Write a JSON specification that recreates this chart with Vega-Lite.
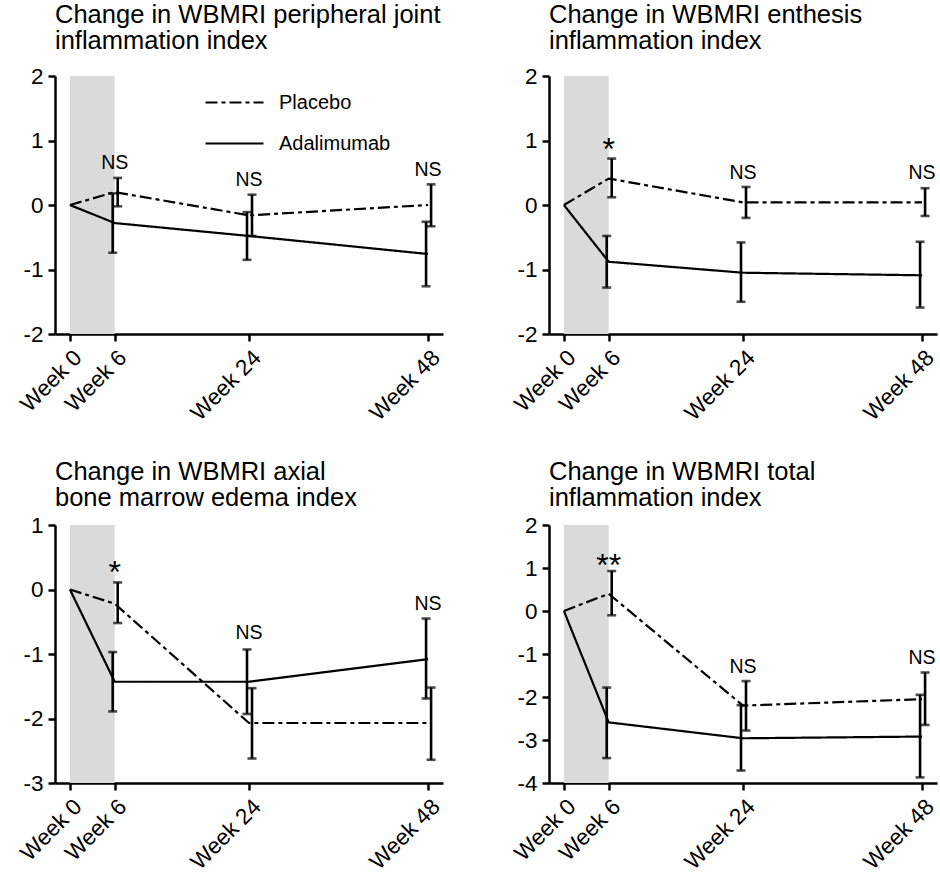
{
  "$schema": "https://vega.github.io/schema/vega-lite/v6.json",
  "padding": {"left": 16, "top": 2, "right": 0, "bottom": 0},
  "background": "white",
  "columns": 2,
  "spacing": {"row": 191, "column": 106},
  "bounds": "flush",
  "resolve": {"scale": {"strokeDash": "independent"}, "legend": {"strokeDash": "independent"}},
  "datasets": {
    "pts": [
      {"p": 1, "s": "Placebo", "w": 0, "m": 0, "lo": 0, "hi": 0},
      {"p": 1, "s": "Placebo", "w": 6, "m": 0.2, "lo": -0.02, "hi": 0.42},
      {"p": 1, "s": "Placebo", "w": 24, "m": -0.16, "lo": -0.48, "hi": 0.16},
      {"p": 1, "s": "Placebo", "w": 48, "m": 0.0, "lo": -0.33, "hi": 0.32},
      {"p": 1, "s": "Adalimumab", "w": 0, "m": 0, "lo": 0, "hi": 0},
      {"p": 1, "s": "Adalimumab", "w": 6, "m": -0.28, "lo": -0.74, "hi": 0.18},
      {"p": 1, "s": "Adalimumab", "w": 24, "m": -0.48, "lo": -0.85, "hi": -0.11},
      {"p": 1, "s": "Adalimumab", "w": 48, "m": -0.76, "lo": -1.26, "hi": -0.26},
      {"p": 2, "s": "Placebo", "w": 0, "m": 0, "lo": 0, "hi": 0},
      {"p": 2, "s": "Placebo", "w": 6, "m": 0.41, "lo": 0.12, "hi": 0.72},
      {"p": 2, "s": "Placebo", "w": 24, "m": 0.04, "lo": -0.2, "hi": 0.28},
      {"p": 2, "s": "Placebo", "w": 48, "m": 0.04, "lo": -0.17, "hi": 0.26},
      {"p": 2, "s": "Adalimumab", "w": 0, "m": 0, "lo": 0, "hi": 0},
      {"p": 2, "s": "Adalimumab", "w": 6, "m": -0.88, "lo": -1.28, "hi": -0.48},
      {"p": 2, "s": "Adalimumab", "w": 24, "m": -1.05, "lo": -1.5, "hi": -0.58},
      {"p": 2, "s": "Adalimumab", "w": 48, "m": -1.09, "lo": -1.59, "hi": -0.57},
      {"p": 3, "s": "Placebo", "w": 0, "m": 0, "lo": 0, "hi": 0},
      {"p": 3, "s": "Placebo", "w": 6, "m": -0.22, "lo": -0.52, "hi": 0.11},
      {"p": 3, "s": "Placebo", "w": 24, "m": -2.07, "lo": -2.62, "hi": -1.53},
      {"p": 3, "s": "Placebo", "w": 48, "m": -2.07, "lo": -2.64, "hi": -1.52},
      {"p": 3, "s": "Adalimumab", "w": 0, "m": 0, "lo": 0, "hi": 0},
      {"p": 3, "s": "Adalimumab", "w": 6, "m": -1.43, "lo": -1.89, "hi": -0.97},
      {"p": 3, "s": "Adalimumab", "w": 24, "m": -1.43, "lo": -1.93, "hi": -0.93},
      {"p": 3, "s": "Adalimumab", "w": 48, "m": -1.08, "lo": -1.69, "hi": -0.45},
      {"p": 4, "s": "Placebo", "w": 0, "m": 0, "lo": 0, "hi": 0},
      {"p": 4, "s": "Placebo", "w": 6, "m": 0.4, "lo": -0.1, "hi": 0.93},
      {"p": 4, "s": "Placebo", "w": 24, "m": -2.2, "lo": -2.78, "hi": -1.63},
      {"p": 4, "s": "Placebo", "w": 48, "m": -2.05, "lo": -2.65, "hi": -1.43},
      {"p": 4, "s": "Adalimumab", "w": 0, "m": 0, "lo": 0, "hi": 0},
      {"p": 4, "s": "Adalimumab", "w": 6, "m": -2.59, "lo": -3.42, "hi": -1.78},
      {"p": 4, "s": "Adalimumab", "w": 24, "m": -2.96, "lo": -3.71, "hi": -2.19},
      {"p": 4, "s": "Adalimumab", "w": 48, "m": -2.92, "lo": -3.87, "hi": -1.95}
    ],
    "notes": [
      {"p": 1, "w": 6, "y": 0.65, "t": "NS"},
      {"p": 1, "w": 24, "y": 0.39, "t": "NS"},
      {"p": 1, "w": 48, "y": 0.55, "t": "NS"},
      {"p": 2, "w": 6, "y": 0.85, "t": "*"},
      {"p": 2, "w": 24, "y": 0.5, "t": "NS"},
      {"p": 2, "w": 48, "y": 0.5, "t": "NS"},
      {"p": 3, "w": 6, "y": 0.25, "t": "*"},
      {"p": 3, "w": 24, "y": -0.68, "t": "NS"},
      {"p": 3, "w": 48, "y": -0.22, "t": "NS"},
      {"p": 4, "w": 6, "y": 1.05, "t": "**"},
      {"p": 4, "w": 24, "y": -1.3, "t": "NS"},
      {"p": 4, "w": 48, "y": -1.09, "t": "NS"}
    ],
    "shade": [{"a": 0, "b": 6}]
  },
  "concat": [
    {
      "width": 388, "height": 258,
      "title": {"text": ["Change in WBMRI peripheral joint", "inflammation index"], "offset": 11},
      "layer": [
        {"data": {"name": "shade"}, "mark": {"type": "rect", "color": "#dadada"},
         "encoding": {"x": {"field": "a", "type": "quantitative", "scale": {"domain": [-2, 50], "nice": false, "zero": false}, "axis": {"values": [0, 6, 24, 48], "labelExpr": "'Week ' + datum.value", "labelAngle": -45, "title": null}}, "x2": {"field": "b"}}},
        {"data": {"name": "pts"}, "transform": [{"filter": "datum.p == 1"}], "mark": {"type": "line", "color": "black", "strokeWidth": 2.2},
         "encoding": {"x": {"field": "w", "type": "quantitative"}, "y": {"field": "m", "type": "quantitative", "scale": {"domain": [-2, 2], "nice": false, "zero": false}, "axis": {"values": [-2, -1, 0, 1, 2], "labelExpr": "'' + datum.value", "title": null}},
           "strokeDash": {"field": "s", "type": "nominal", "scale": {"domain": ["Placebo", "Adalimumab"], "range": [[12, 4, 4, 4], [1, 0]]}, "legend": {"orient": "none", "legendX": 149, "legendY": -4, "title": null, "symbolSize": 3364, "symbolStrokeWidth": 2.2, "symbolStrokeColor": "black", "labelFontSize": 20, "labelColor": "black", "labelOffset": 14, "rowPadding": -22, "symbolType": "stroke"}}}},
        {"data": {"name": "pts"}, "transform": [{"filter": "datum.p == 1 && datum.w > 0 && datum.s == 'Placebo'"}], "mark": {"type": "rule", "color": "black", "strokeWidth": 2.6, "xOffset": 3},
         "encoding": {"x": {"field": "w", "type": "quantitative"}, "y": {"field": "lo", "type": "quantitative"}, "y2": {"field": "hi"}}},
        {"data": {"name": "pts"}, "transform": [{"filter": "datum.p == 1 && datum.w > 0 && datum.s == 'Adalimumab'"}], "mark": {"type": "rule", "color": "black", "strokeWidth": 2.6, "xOffset": -2},
         "encoding": {"x": {"field": "w", "type": "quantitative"}, "y": {"field": "lo", "type": "quantitative"}, "y2": {"field": "hi"}}},
        {"data": {"name": "pts"}, "transform": [{"filter": "datum.p == 1 && datum.w > 0 && datum.s == 'Placebo'"}, {"fold": ["lo", "hi"], "as": ["k", "v"]}], "mark": {"type": "tick", "orient": "horizontal", "color": "black", "size": 9, "thickness": 2.6, "xOffset": 3},
         "encoding": {"x": {"field": "w", "type": "quantitative"}, "y": {"field": "v", "type": "quantitative"}}},
        {"data": {"name": "pts"}, "transform": [{"filter": "datum.p == 1 && datum.w > 0 && datum.s == 'Adalimumab'"}, {"fold": ["lo", "hi"], "as": ["k", "v"]}], "mark": {"type": "tick", "orient": "horizontal", "color": "black", "size": 9, "thickness": 2.6, "xOffset": -2},
         "encoding": {"x": {"field": "w", "type": "quantitative"}, "y": {"field": "v", "type": "quantitative"}}},
        {"data": {"name": "notes"}, "transform": [{"filter": "datum.p == 1 && datum.t == 'NS'"}], "mark": {"type": "text", "fontSize": 19.5, "color": "black", "baseline": "middle"},
         "encoding": {"x": {"field": "w", "type": "quantitative"}, "y": {"field": "y", "type": "quantitative"}, "text": {"field": "t"}}},
        {"data": {"name": "notes"}, "transform": [{"filter": "datum.p == 1 && datum.t != 'NS'"}], "mark": {"type": "text", "fontSize": 32, "color": "black", "baseline": "middle"},
         "encoding": {"x": {"field": "w", "type": "quantitative"}, "y": {"field": "y", "type": "quantitative"}, "text": {"field": "t"}}}
      ]
    },
    {
      "width": 388, "height": 258,
      "title": {"text": ["Change in WBMRI enthesis", "inflammation index"], "offset": 11},
      "layer": [
        {"data": {"name": "shade"}, "mark": {"type": "rect", "color": "#dadada"},
         "encoding": {"x": {"field": "a", "type": "quantitative", "scale": {"domain": [-2, 50], "nice": false, "zero": false}, "axis": {"values": [0, 6, 24, 48], "labelExpr": "'Week ' + datum.value", "labelAngle": -45, "title": null}}, "x2": {"field": "b"}}},
        {"data": {"name": "pts"}, "transform": [{"filter": "datum.p == 2"}], "mark": {"type": "line", "color": "black", "strokeWidth": 2.2},
         "encoding": {"x": {"field": "w", "type": "quantitative"}, "y": {"field": "m", "type": "quantitative", "scale": {"domain": [-2, 2], "nice": false, "zero": false}, "axis": {"values": [-2, -1, 0, 1, 2], "labelExpr": "'' + datum.value", "title": null}},
           "strokeDash": {"field": "s", "type": "nominal", "scale": {"domain": ["Placebo", "Adalimumab"], "range": [[12, 4, 4, 4], [1, 0]]}, "legend": null}}},
        {"data": {"name": "pts"}, "transform": [{"filter": "datum.p == 2 && datum.w > 0 && datum.s == 'Placebo'"}], "mark": {"type": "rule", "color": "black", "strokeWidth": 2.6, "xOffset": 3},
         "encoding": {"x": {"field": "w", "type": "quantitative"}, "y": {"field": "lo", "type": "quantitative"}, "y2": {"field": "hi"}}},
        {"data": {"name": "pts"}, "transform": [{"filter": "datum.p == 2 && datum.w > 0 && datum.s == 'Adalimumab'"}], "mark": {"type": "rule", "color": "black", "strokeWidth": 2.6, "xOffset": -2},
         "encoding": {"x": {"field": "w", "type": "quantitative"}, "y": {"field": "lo", "type": "quantitative"}, "y2": {"field": "hi"}}},
        {"data": {"name": "pts"}, "transform": [{"filter": "datum.p == 2 && datum.w > 0 && datum.s == 'Placebo'"}, {"fold": ["lo", "hi"], "as": ["k", "v"]}], "mark": {"type": "tick", "orient": "horizontal", "color": "black", "size": 9, "thickness": 2.6, "xOffset": 3},
         "encoding": {"x": {"field": "w", "type": "quantitative"}, "y": {"field": "v", "type": "quantitative"}}},
        {"data": {"name": "pts"}, "transform": [{"filter": "datum.p == 2 && datum.w > 0 && datum.s == 'Adalimumab'"}, {"fold": ["lo", "hi"], "as": ["k", "v"]}], "mark": {"type": "tick", "orient": "horizontal", "color": "black", "size": 9, "thickness": 2.6, "xOffset": -2},
         "encoding": {"x": {"field": "w", "type": "quantitative"}, "y": {"field": "v", "type": "quantitative"}}},
        {"data": {"name": "notes"}, "transform": [{"filter": "datum.p == 2 && datum.t == 'NS'"}], "mark": {"type": "text", "fontSize": 19.5, "color": "black", "baseline": "middle"},
         "encoding": {"x": {"field": "w", "type": "quantitative"}, "y": {"field": "y", "type": "quantitative"}, "text": {"field": "t"}}},
        {"data": {"name": "notes"}, "transform": [{"filter": "datum.p == 2 && datum.t != 'NS'"}], "mark": {"type": "text", "fontSize": 32, "color": "black", "baseline": "middle"},
         "encoding": {"x": {"field": "w", "type": "quantitative"}, "y": {"field": "y", "type": "quantitative"}, "text": {"field": "t"}}}
      ]
    },
    {
      "width": 388, "height": 258,
      "title": {"text": ["Change in WBMRI axial", "bone marrow edema index"], "offset": 3},
      "layer": [
        {"data": {"name": "shade"}, "mark": {"type": "rect", "color": "#dadada"},
         "encoding": {"x": {"field": "a", "type": "quantitative", "scale": {"domain": [-2, 50], "nice": false, "zero": false}, "axis": {"values": [0, 6, 24, 48], "labelExpr": "'Week ' + datum.value", "labelAngle": -45, "title": null}}, "x2": {"field": "b"}}},
        {"data": {"name": "pts"}, "transform": [{"filter": "datum.p == 3"}], "mark": {"type": "line", "color": "black", "strokeWidth": 2.2},
         "encoding": {"x": {"field": "w", "type": "quantitative"}, "y": {"field": "m", "type": "quantitative", "scale": {"domain": [-3, 1], "nice": false, "zero": false}, "axis": {"values": [-3, -2, -1, 0, 1], "labelExpr": "'' + datum.value", "title": null}},
           "strokeDash": {"field": "s", "type": "nominal", "scale": {"domain": ["Placebo", "Adalimumab"], "range": [[12, 4, 4, 4], [1, 0]]}, "legend": null}}},
        {"data": {"name": "pts"}, "transform": [{"filter": "datum.p == 3 && datum.w > 0 && datum.s == 'Placebo'"}], "mark": {"type": "rule", "color": "black", "strokeWidth": 2.6, "xOffset": 3},
         "encoding": {"x": {"field": "w", "type": "quantitative"}, "y": {"field": "lo", "type": "quantitative"}, "y2": {"field": "hi"}}},
        {"data": {"name": "pts"}, "transform": [{"filter": "datum.p == 3 && datum.w > 0 && datum.s == 'Adalimumab'"}], "mark": {"type": "rule", "color": "black", "strokeWidth": 2.6, "xOffset": -2},
         "encoding": {"x": {"field": "w", "type": "quantitative"}, "y": {"field": "lo", "type": "quantitative"}, "y2": {"field": "hi"}}},
        {"data": {"name": "pts"}, "transform": [{"filter": "datum.p == 3 && datum.w > 0 && datum.s == 'Placebo'"}, {"fold": ["lo", "hi"], "as": ["k", "v"]}], "mark": {"type": "tick", "orient": "horizontal", "color": "black", "size": 9, "thickness": 2.6, "xOffset": 3},
         "encoding": {"x": {"field": "w", "type": "quantitative"}, "y": {"field": "v", "type": "quantitative"}}},
        {"data": {"name": "pts"}, "transform": [{"filter": "datum.p == 3 && datum.w > 0 && datum.s == 'Adalimumab'"}, {"fold": ["lo", "hi"], "as": ["k", "v"]}], "mark": {"type": "tick", "orient": "horizontal", "color": "black", "size": 9, "thickness": 2.6, "xOffset": -2},
         "encoding": {"x": {"field": "w", "type": "quantitative"}, "y": {"field": "v", "type": "quantitative"}}},
        {"data": {"name": "notes"}, "transform": [{"filter": "datum.p == 3 && datum.t == 'NS'"}], "mark": {"type": "text", "fontSize": 19.5, "color": "black", "baseline": "middle"},
         "encoding": {"x": {"field": "w", "type": "quantitative"}, "y": {"field": "y", "type": "quantitative"}, "text": {"field": "t"}}},
        {"data": {"name": "notes"}, "transform": [{"filter": "datum.p == 3 && datum.t != 'NS'"}], "mark": {"type": "text", "fontSize": 32, "color": "black", "baseline": "middle"},
         "encoding": {"x": {"field": "w", "type": "quantitative"}, "y": {"field": "y", "type": "quantitative"}, "text": {"field": "t"}}}
      ]
    },
    {
      "width": 388, "height": 258,
      "title": {"text": ["Change in WBMRI total", "inflammation index"], "offset": 3},
      "layer": [
        {"data": {"name": "shade"}, "mark": {"type": "rect", "color": "#dadada"},
         "encoding": {"x": {"field": "a", "type": "quantitative", "scale": {"domain": [-2, 50], "nice": false, "zero": false}, "axis": {"values": [0, 6, 24, 48], "labelExpr": "'Week ' + datum.value", "labelAngle": -45, "title": null}}, "x2": {"field": "b"}}},
        {"data": {"name": "pts"}, "transform": [{"filter": "datum.p == 4"}], "mark": {"type": "line", "color": "black", "strokeWidth": 2.2},
         "encoding": {"x": {"field": "w", "type": "quantitative"}, "y": {"field": "m", "type": "quantitative", "scale": {"domain": [-4, 2], "nice": false, "zero": false}, "axis": {"values": [-4, -3, -2, -1, 0, 1, 2], "labelExpr": "'' + datum.value", "title": null}},
           "strokeDash": {"field": "s", "type": "nominal", "scale": {"domain": ["Placebo", "Adalimumab"], "range": [[12, 4, 4, 4], [1, 0]]}, "legend": null}}},
        {"data": {"name": "pts"}, "transform": [{"filter": "datum.p == 4 && datum.w > 0 && datum.s == 'Placebo'"}], "mark": {"type": "rule", "color": "black", "strokeWidth": 2.6, "xOffset": 3},
         "encoding": {"x": {"field": "w", "type": "quantitative"}, "y": {"field": "lo", "type": "quantitative"}, "y2": {"field": "hi"}}},
        {"data": {"name": "pts"}, "transform": [{"filter": "datum.p == 4 && datum.w > 0 && datum.s == 'Adalimumab'"}], "mark": {"type": "rule", "color": "black", "strokeWidth": 2.6, "xOffset": -2},
         "encoding": {"x": {"field": "w", "type": "quantitative"}, "y": {"field": "lo", "type": "quantitative"}, "y2": {"field": "hi"}}},
        {"data": {"name": "pts"}, "transform": [{"filter": "datum.p == 4 && datum.w > 0 && datum.s == 'Placebo'"}, {"fold": ["lo", "hi"], "as": ["k", "v"]}], "mark": {"type": "tick", "orient": "horizontal", "color": "black", "size": 9, "thickness": 2.6, "xOffset": 3},
         "encoding": {"x": {"field": "w", "type": "quantitative"}, "y": {"field": "v", "type": "quantitative"}}},
        {"data": {"name": "pts"}, "transform": [{"filter": "datum.p == 4 && datum.w > 0 && datum.s == 'Adalimumab'"}, {"fold": ["lo", "hi"], "as": ["k", "v"]}], "mark": {"type": "tick", "orient": "horizontal", "color": "black", "size": 9, "thickness": 2.6, "xOffset": -2},
         "encoding": {"x": {"field": "w", "type": "quantitative"}, "y": {"field": "v", "type": "quantitative"}}},
        {"data": {"name": "notes"}, "transform": [{"filter": "datum.p == 4 && datum.t == 'NS'"}], "mark": {"type": "text", "fontSize": 19.5, "color": "black", "baseline": "middle"},
         "encoding": {"x": {"field": "w", "type": "quantitative"}, "y": {"field": "y", "type": "quantitative"}, "text": {"field": "t"}}},
        {"data": {"name": "notes"}, "transform": [{"filter": "datum.p == 4 && datum.t != 'NS'"}], "mark": {"type": "text", "fontSize": 32, "color": "black", "baseline": "middle"},
         "encoding": {"x": {"field": "w", "type": "quantitative"}, "y": {"field": "y", "type": "quantitative"}, "text": {"field": "t"}}}
      ]
    }
  ],
  "config": {
    "font": "Liberation Sans",
    "view": {"stroke": null},
    "title": {"anchor": "start", "frame": "group", "fontSize": 25.5, "lineHeight": 26, "fontWeight": "normal", "color": "black", "font": "Liberation Sans"},
    "axis": {"domainColor": "black", "domainWidth": 2.5, "tickColor": "black", "tickWidth": 2.5, "tickSize": 7, "labelFontSize": 22.5, "labelColor": "black", "labelFont": "Liberation Sans", "grid": false, "labelPadding": 5, "labelOverlap": false, "labelFlush": false},
    "legend": {"labelFont": "Liberation Sans"}
  }
}
